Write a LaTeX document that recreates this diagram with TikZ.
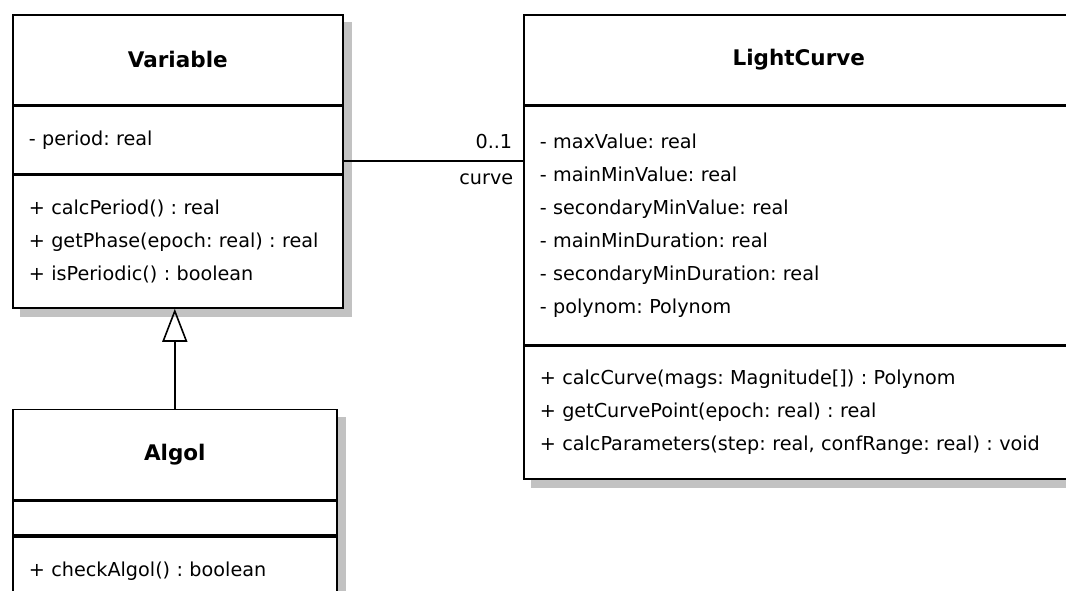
\documentclass[tikz,border=0pt]{standalone}
\usepackage{fontspec}
\setmainfont{DejaVu Sans}
\frenchspacing
\usetikzlibrary{arrows.meta, positioning, calc, backgrounds}

\begin{document}
\begin{tikzpicture}[
        x=1pt, y=-1pt,
        classname/.style={draw, line width=1.6pt, fill=white, inner xsep=0pt, text width=#1, align=center, minimum height=90pt, font=\fontsize{21.5}{24}\selectfont\bfseries},
        members/.style={draw, line width=1.6pt, fill=white, inner xsep=16pt, inner ysep=0pt, text width=#1, align=left, font=\fontsize{19.2}{33}\selectfont},
        assoc/.style={line width=1.6pt},
        generalize/.style={line width=1.6pt, -{Triangle[open, length=33pt, width=25pt, line width=1.6pt]}},
        role/.style={inner sep=0pt, font=\fontsize{19.2}{22}\selectfont},
        shade/.style={fill=black!24}
    ]
        \useasboundingbox (0,0) rectangle (1066,591);

        % Classes
        \node[classname=330pt, anchor=north west] (var) at (12,14) {Variable};
        \node[members=298pt, minimum height=67pt, below=0pt of var] (var-attr) {- period: real};
        \node[members=298pt, minimum height=133pt, below=0pt of var-attr] (var-ops) {+ calcPeriod() : real\\+ getPhase(epoch: real) : real\\+ isPeriodic() : boolean};

        \node[classname=324pt, below right=100pt and 0pt of var-ops.south west] (algol) {Algol};
        \node[members=292pt, minimum height=34pt, below=0pt of algol] (algol-attr) {};
        \node[members=292pt, minimum height=68pt, below=0pt of algol-attr] (algol-ops) {+ checkAlgol() : boolean};

        \node[classname=550pt, anchor=north west] (lc) at (523,14) {LightCurve};
        \node[members=518pt, minimum height=238pt, below=0pt of lc] (lc-attr) {- maxValue: real\\- mainMinValue: real\\- secondaryMinValue: real\\- mainMinDuration: real\\- secondaryMinDuration: real\\- polynom: Polynom};
        \node[members=518pt, minimum height=133pt, below=0pt of lc-attr] (lc-ops) {+ calcCurve(mags: Magnitude[]) : Polynom\\+ getCurvePoint(epoch: real) : real\\+ calcParameters(step: real, confRange: real) : void};

        % Links
        \coordinate (link) at ([yshift=-21pt]var-attr.east);
        \draw[assoc] (link) -- (link -| lc.west)
            node[role, pos=1, anchor=south east, xshift=-10pt, yshift=11pt] {0..1}
            node[role, pos=1, anchor=north east, xshift=-9pt, yshift=-12pt] {curve};
        \draw[generalize] (algol.north) -- (algol.north |- var-ops.south);

        % Shadows
        \begin{scope}[on background layer]
            \fill[white] (0,0) rectangle (1066,591);
            \foreach \head/\tail in {var/var-ops, algol/algol-ops, lc/lc-ops}
                \fill[shade] ([shift={(8,8)}]\head.north west) rectangle ([shift={(8,8)}]\tail.south east);
        \end{scope}
    \end{tikzpicture}
\end{document}
